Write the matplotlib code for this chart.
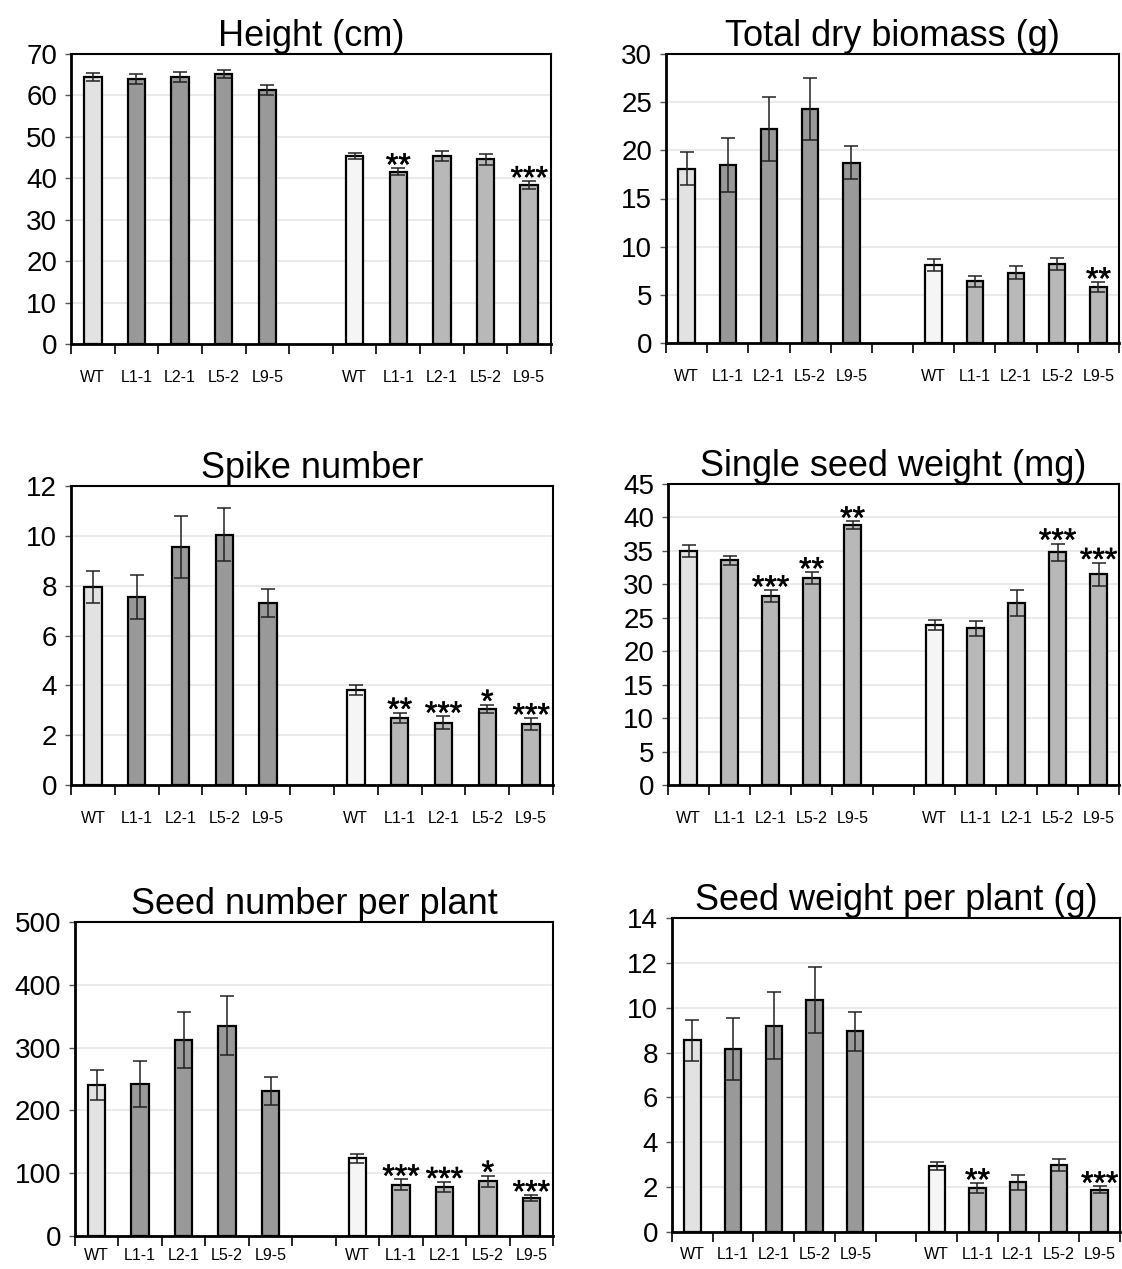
import matplotlib.pyplot as plt
import matplotlib.patheffects as pe

plt.rcParams['font.family'] = ['Liberation Sans', 'DejaVu Sans']

lines = ['WT', 'L1-1', 'L2-1', 'L5-2', 'L9-5']

# each panel: left group (5) and right group (5)
titles = ['Height (cm)', 'Total dry biomass (g)', 'Spike number',
          'Single seed weight (mg)', 'Seed number per plant', 'Seed weight per plant (g)']

height_l = [64.5, 64.0, 64.5, 65.2, 61.2]
height_l_err = [1.0, 1.2, 1.2, 1.0, 1.2]
height_r = [45.4, 41.6, 45.4, 44.6, 38.4]
height_r_err = [0.8, 0.8, 1.2, 1.3, 0.9]
height_stars_l = ['', '', '', '', '']
height_stars_r = ['', '**', '', '', '***']

biomass_l = [18.1, 18.5, 22.2, 24.3, 18.7]
biomass_l_err = [1.7, 2.8, 3.3, 3.2, 1.7]
biomass_r = [8.1, 6.4, 7.3, 8.2, 5.8]
biomass_r_err = [0.6, 0.6, 0.7, 0.6, 0.5]
biomass_stars_l = ['', '', '', '', '']
biomass_stars_r = ['', '', '', '', '**']

spike_l = [7.95, 7.55, 9.55, 10.05, 7.3]
spike_l_err = [0.65, 0.88, 1.25, 1.05, 0.55]
spike_r = [3.8, 2.7, 2.5, 3.05, 2.45]
spike_r_err = [0.2, 0.2, 0.25, 0.17, 0.23]
spike_stars_l = ['', '', '', '', '']
spike_stars_r = ['', '**', '***', '*', '***']

sseed_l = [35.0, 33.6, 28.2, 30.9, 38.8]
sseed_l_err = [0.9, 0.7, 0.9, 0.9, 0.6]
sseed_r = [23.9, 23.4, 27.2, 34.8, 31.5]
sseed_r_err = [0.7, 1.1, 1.9, 1.3, 1.7]
sseed_stars_l = ['', '', '***', '**', '**']
sseed_stars_r = ['', '', '', '***', '***']

snum_l = [241, 242, 312, 335, 231]
snum_l_err = [24, 37, 44, 47, 22]
snum_r = [124, 82, 78, 87, 60]
snum_r_err = [7, 8, 8, 9, 5]
snum_stars_l = ['', '', '', '', '']
snum_stars_r = ['', '***', '***', '*', '***']

sw_l = [8.55, 8.15, 9.2, 10.35, 8.95]
sw_l_err = [0.92, 1.37, 1.48, 1.48, 0.87]
sw_r = [2.95, 1.95, 2.22, 3.0, 1.88]
sw_r_err = [0.17, 0.22, 0.33, 0.27, 0.15]
sw_stars_l = ['', '', '', '', '']
sw_stars_r = ['', '**', '', '', '***']

ymax = [70, 30, 12, 45, 500, 14]
ystep = [10, 5, 2, 5, 100, 2]

panels = [
    (height_l, height_l_err, height_r, height_r_err, height_stars_l, height_stars_r),
    (biomass_l, biomass_l_err, biomass_r, biomass_r_err, biomass_stars_l, biomass_stars_r),
    (spike_l, spike_l_err, spike_r, spike_r_err, spike_stars_l, spike_stars_r),
    (sseed_l, sseed_l_err, sseed_r, sseed_r_err, sseed_stars_l, sseed_stars_r),
    (snum_l, snum_l_err, snum_r, snum_r_err, snum_stars_l, snum_stars_r),
    (sw_l, sw_l_err, sw_r, sw_r_err, sw_stars_l, sw_stars_r),
]

# axes boxes in pixels: left, right, top, bottom
W, H = 1122, 1269
boxes = [(71, 551, 54, 344), (666, 1119, 54, 343),
         (71, 553, 486, 785), (668, 1119, 484, 785),
         (75, 553, 922, 1236), (672, 1120, 918, 1232)]
label_pad = [19, 19, 19, 19, 9, 11]

fig = plt.figure(figsize=(W / 100, H / 100), dpi=100)
thick = [pe.withStroke(linewidth=0.4, foreground='black')]

for i, (yl, el, yr, er, sl, sr) in enumerate(panels):
    l, r, t, b = boxes[i]
    ax = fig.add_axes([l / W, 1 - b / H, (r - l) / W, (b - t) / H])
    xl = list(range(5))
    xr = [x + 6 for x in range(5)]
    dark = '#b8b8b8' if i == 3 else '#999999'
    cl = ['#e2e2e2'] + [dark] * 4
    cr = ['#f4f5f4'] + ['#b8b8b8'] * 4
    ek = dict(ecolor='#222222', elinewidth=1.1, capsize=5, capthick=1.1)
    ax.bar(xl, yl, 0.4, color=cl, edgecolor='black', linewidth=1.6,
           yerr=el, error_kw=ek, zorder=3)
    ax.bar(xr, yr, 0.4, color=cr, edgecolor='black', linewidth=1.6,
           yerr=er, error_kw=ek, zorder=3)
    for xs, ys, es, ss in [(xl, yl, el, sl), (xr, yr, er, sr)]:
        for x, y, e, s in zip(xs, ys, es, ss):
            if s:
                ax.annotate(s, (x, y + e), xytext=(0, -5), textcoords='offset points',
                            ha='center', va='baseline', fontsize=23,
                            path_effects=thick, zorder=4)
    ax.set_xlim(-0.5, 10.5)
    ax.set_ylim(0, ymax[i])
    ax.set_yticks(range(0, ymax[i] + 1, ystep[i]))
    ax.tick_params(axis='y', labelsize=20, length=4, width=1, color='#555555', pad=6)
    ax.set_xticks([k - 0.5 for k in range(12)])
    ax.set_xticklabels([])
    ax.set_xticks(xl + xr, minor=True)
    ax.set_xticklabels(lines + lines, minor=True)
    ax.tick_params(axis='x', which='major', length=7, width=1.2, direction='out')
    ax.tick_params(axis='x', which='minor', length=0, labelsize=11.5, pad=label_pad[i])
    ax.grid(axis='y', color='#e6e6e6', linewidth=1.2, zorder=0)
    for sp in ['left', 'bottom']:
        ax.spines[sp].set_linewidth(2)
    for sp in ['top', 'right']:
        ax.spines[sp].set_linewidth(1.5)
    ax.set_title(titles[i], fontsize=26, pad=3)

fig.savefig('out.png', dpi=100)
